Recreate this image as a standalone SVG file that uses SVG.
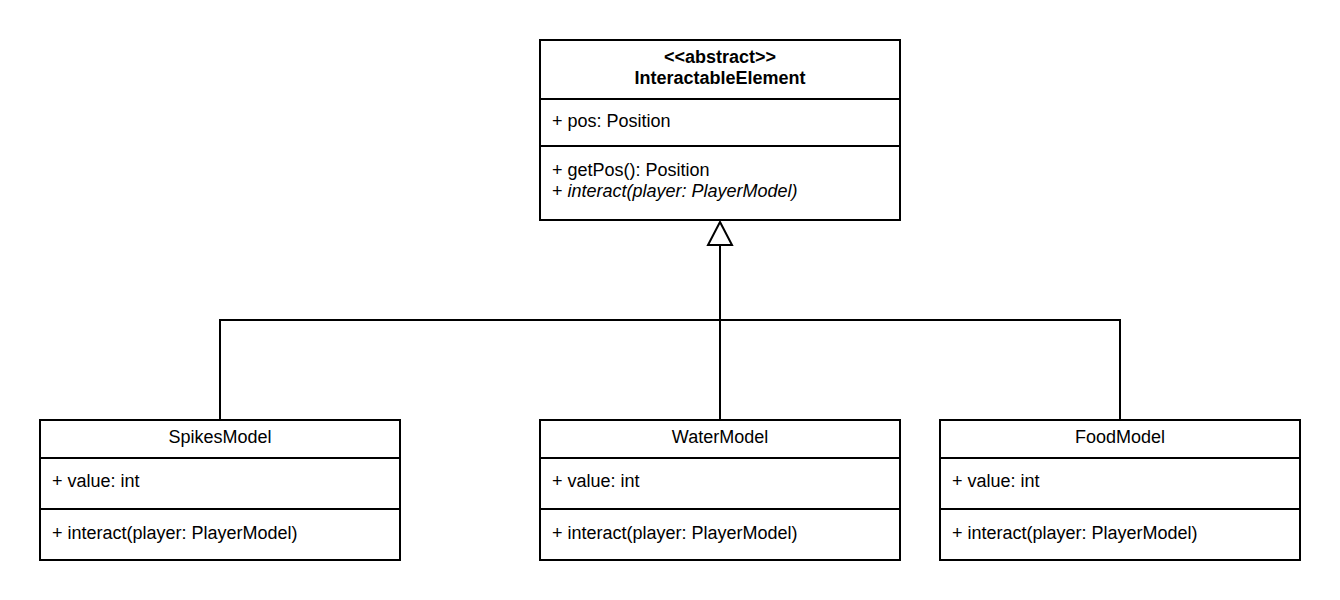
<svg xmlns="http://www.w3.org/2000/svg" width="1340" height="600" viewBox="0 0 1340 600">
<style>
.box{fill:#fff;stroke:#000;stroke-width:2}
.div{stroke:#000;stroke-width:2}
text{font-family:"Liberation Sans",Arial,sans-serif;font-size:18px;fill:#000}
.c{text-anchor:middle}
.b{font-weight:bold}
.conn{fill:none;stroke:#000;stroke-width:2}
</style>
<rect width="1340" height="600" fill="#fff"/>
<g id="connectors">
<path class="conn" d="M720 245 V320 M220 420 V320 H1120 V420 M720 320 V420"/>
<polygon points="720,222 708,245 732,245" fill="#fff" stroke="#000" stroke-width="2"/>
</g>
<g id="InteractableElement">
<rect class="box" x="540" y="40" width="360" height="180"/>
<line class="div" x1="540" y1="99" x2="900" y2="99"/>
<line class="div" x1="540" y1="146" x2="900" y2="146"/>
<text class="c b" x="720" y="62.5">&lt;&lt;abstract&gt;&gt;</text>
<text class="c b" x="720" y="84">InteractableElement</text>
<text x="552" y="126.5">+ pos: Position</text>
<text x="552" y="176">+ getPos(): Position</text>
<text x="552" y="197">+ <tspan font-style="italic">interact(player: PlayerModel)</tspan></text>
</g>
<g id="SpikesModel">
<rect class="box" x="40" y="420" width="360" height="140"/>
<line class="div" x1="40" y1="458" x2="400" y2="458"/>
<line class="div" x1="40" y1="509" x2="400" y2="509"/>
<text class="c" x="220" y="443">SpikesModel</text>
<text x="52" y="487">+ value: int</text>
<text x="52" y="539">+ interact(player: PlayerModel)</text>
</g>
<g id="WaterModel">
<rect class="box" x="540" y="420" width="360" height="140"/>
<line class="div" x1="540" y1="458" x2="900" y2="458"/>
<line class="div" x1="540" y1="509" x2="900" y2="509"/>
<text class="c" x="720" y="443">WaterModel</text>
<text x="552" y="487">+ value: int</text>
<text x="552" y="539">+ interact(player: PlayerModel)</text>
</g>
<g id="FoodModel">
<rect class="box" x="940" y="420" width="360" height="140"/>
<line class="div" x1="940" y1="458" x2="1300" y2="458"/>
<line class="div" x1="940" y1="509" x2="1300" y2="509"/>
<text class="c" x="1120" y="443">FoodModel</text>
<text x="952" y="487">+ value: int</text>
<text x="952" y="539">+ interact(player: PlayerModel)</text>
</g>
</svg>
